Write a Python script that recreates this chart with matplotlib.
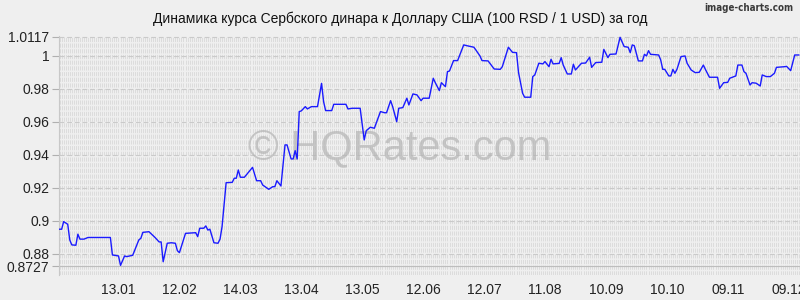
import numpy as np
import matplotlib
matplotlib.use('Agg')
from matplotlib import pyplot as plt

plt.rcParams['font.family'] = ['Liberation Sans', 'DejaVu Sans']
plt.rcParams['lines.scale_dashes'] = False

title = 'Динамика курса Сербского динара к Доллару США (100 RSD / 1 USD) за год'

# day index (0 = 15.12) and rate
days = [0, 1, 2, 4, 5, 6, 8, 9, 10, 12, 14, 25, 26, 29, 30, 32, 33, 36, 39, 40,
        41, 44, 47, 49, 50, 51, 53, 55, 57, 58, 59, 62, 67, 68, 69, 71, 72, 73, 74, 76,
        78, 79, 80, 82, 85, 86, 87, 88, 89, 91, 95, 97, 99, 100, 103, 105, 106, 107, 109, 111,
        112, 114, 115, 116, 117, 118, 119, 121, 122, 124, 127, 129, 130, 131, 134, 135, 141, 142, 144, 148,
        150, 151, 153, 155, 158, 160, 161, 163, 164, 166, 167, 169, 171, 172, 174, 176, 178, 179, 182, 184,
        185, 187, 188, 190, 191, 192, 194, 196, 199, 201, 204, 205, 207, 208, 211, 214, 217, 218, 221, 223,
        225, 226, 228, 229, 232, 233, 234, 236, 238, 239, 241, 242, 243, 246, 247, 248, 250, 252, 253, 254,
        257, 259, 261, 262, 264, 267, 268, 270, 271, 274, 276, 278, 280, 281, 282, 283, 285, 287, 288, 289,
        290, 291, 295, 296, 297, 298, 300, 301, 302, 303, 304, 306, 308, 309, 311, 313, 315, 317, 318, 320,
        324, 325, 327, 329, 330, 333, 334, 336, 337, 338, 340, 341, 343, 345, 346, 348, 350, 352, 353, 357,
        358, 360, 362, 364]
rate = [0.895, 0.895, 0.8996, 0.898, 0.8885, 0.8855, 0.8853, 0.892, 0.889, 0.889, 0.890, 0.890, 0.8794, 0.8788, 0.8731, 0.8788, 0.8784, 0.8792, 0.8885, 0.8895,
        0.8931, 0.8935, 0.890, 0.8873, 0.8873, 0.8753, 0.8865, 0.8868, 0.8865, 0.882, 0.8808, 0.8925, 0.8929, 0.8905, 0.8956, 0.8956, 0.897, 0.8945, 0.895, 0.8868,
        0.8865, 0.889, 0.8966, 0.9232, 0.9234, 0.9259, 0.9259, 0.9309, 0.9265, 0.9265, 0.9325, 0.9244, 0.9244, 0.9218, 0.9192, 0.9208, 0.9208, 0.9244, 0.9212, 0.9461,
        0.9461, 0.9376, 0.9376, 0.9426, 0.9376, 0.9663, 0.9667, 0.9693, 0.9679, 0.9693, 0.9693, 0.9834, 0.9723, 0.9669, 0.9669, 0.9707, 0.9707, 0.9679, 0.9683, 0.9683,
        0.9491, 0.9547, 0.9568, 0.9562, 0.9663, 0.9656, 0.9656, 0.9729, 0.9693, 0.9602, 0.9683, 0.9687, 0.9744, 0.9703, 0.977, 0.9764, 0.9729, 0.9744, 0.9744, 0.9865,
        0.9838, 0.979, 0.9838, 0.9814, 0.9905, 0.9909, 0.9972, 0.9972, 1.0067, 1.0061, 1.0053, 1.0036, 1.0, 0.9972, 0.997, 0.9921, 0.9919, 0.9935, 1.0053, 1.0022,
        1.002, 0.9899, 0.9774, 0.975, 0.975, 0.9875, 0.9885, 0.9956, 0.9952, 0.9966, 0.9935, 0.998, 0.9952, 0.9955, 0.999, 0.9945, 0.9891, 0.9891, 0.995, 0.9915,
        0.9956, 0.9957, 0.9992, 0.9931, 0.996, 0.9962, 1.004, 0.999, 1.001, 1.0012, 1.0113, 1.0057, 1.0053, 1.002, 1.0067, 1.0062, 0.997, 0.997, 1.001, 1.0,
        1.0032, 1.001, 1.0006, 0.9976, 0.9919, 0.9919, 0.9879, 0.9879, 0.9919, 0.9895, 0.9919, 0.9996, 1.0, 0.9956, 0.9915, 0.9899, 0.9901, 0.9945, 0.9919, 0.9871,
        0.9871, 0.9804, 0.9838, 0.984, 0.9865, 0.9879, 0.9945, 0.9945, 0.9905, 0.9895, 0.9824, 0.9838, 0.9835, 0.9818, 0.9885, 0.9875, 0.9875, 0.9895, 0.9931, 0.9935,
        0.9937, 0.9911, 1.0006, 1.0006]

xtick_days = [29, 59, 89, 119, 149, 179, 209, 239, 269, 299, 329, 359]
xtick_labels = ['13.01', '12.02', '14.03', '13.04', '13.05', '12.06', '12.07', '11.08', '10.09', '10.10', '09.11', '09.12']
yticks = [0.8727, 0.88, 0.9, 0.92, 0.94, 0.96, 0.98, 1.0, 1.0117]
ytick_labels = ['0.8727', '0.88', '0.9', '0.92', '0.94', '0.96', '0.98', '1', '1.0117']

bg = '#efefef'
fig = plt.figure(figsize=(8, 3), dpi=100, facecolor=bg)
ax = fig.add_axes([0.07375, 0.083, 0.92625, 0.797])
ax.set_facecolor(bg)

ax.set_xlim(-0.3, 364.6)
ax.set_ylim(0.8672, 1.0121)

# dense dashed vertical grid
for d in np.arange(0, 365, 1.0):
    ax.axvline(d, color='#dcdcdc', lw=0.7, dashes=(3, 1.1), zorder=0)
for v in yticks:
    ax.axhline(v, color='#cacaca', lw=0.8, dashes=(3.5, 2), zorder=1)
ax.axhline(0.8727, color='#bdbdbd', lw=0.8, zorder=1)

ax.plot(days, rate, color='#1a1aff', lw=1.0, zorder=3)

for s in ['top', 'right', 'bottom']:
    ax.spines[s].set_visible(False)
ax.spines['left'].set_color('#c8c8c8')
ax.spines['left'].set_linewidth(0.8)

ax.set_yticks(yticks)
ax.set_yticklabels(ytick_labels)
ax.set_xticks(xtick_days)
ax.set_xticklabels(xtick_labels)
ax.tick_params(axis='y', length=5, color='#b0b0b0', labelsize=10, pad=2, labelcolor='#222222')
ax.tick_params(axis='x', length=0, labelsize=10, pad=6, labelcolor='#222222')

fig.text(0.5, 0.937, title, ha='center', va='center', fontsize=10, color='#111111')
fig.text(0.992, 0.99, 'image-charts.com', ha='right', va='top', fontsize=7,
         color='#3a3a3a', family='DejaVu Sans', fontstretch='condensed', weight='bold')
ax.text(0.46, 0.53, '© HQRates.com', transform=ax.transAxes, ha='center', va='center',
        fontsize=30, color='#b4b4b4', alpha=0.7, zorder=2)

fig.savefig('out.png', dpi=100, facecolor=bg)
